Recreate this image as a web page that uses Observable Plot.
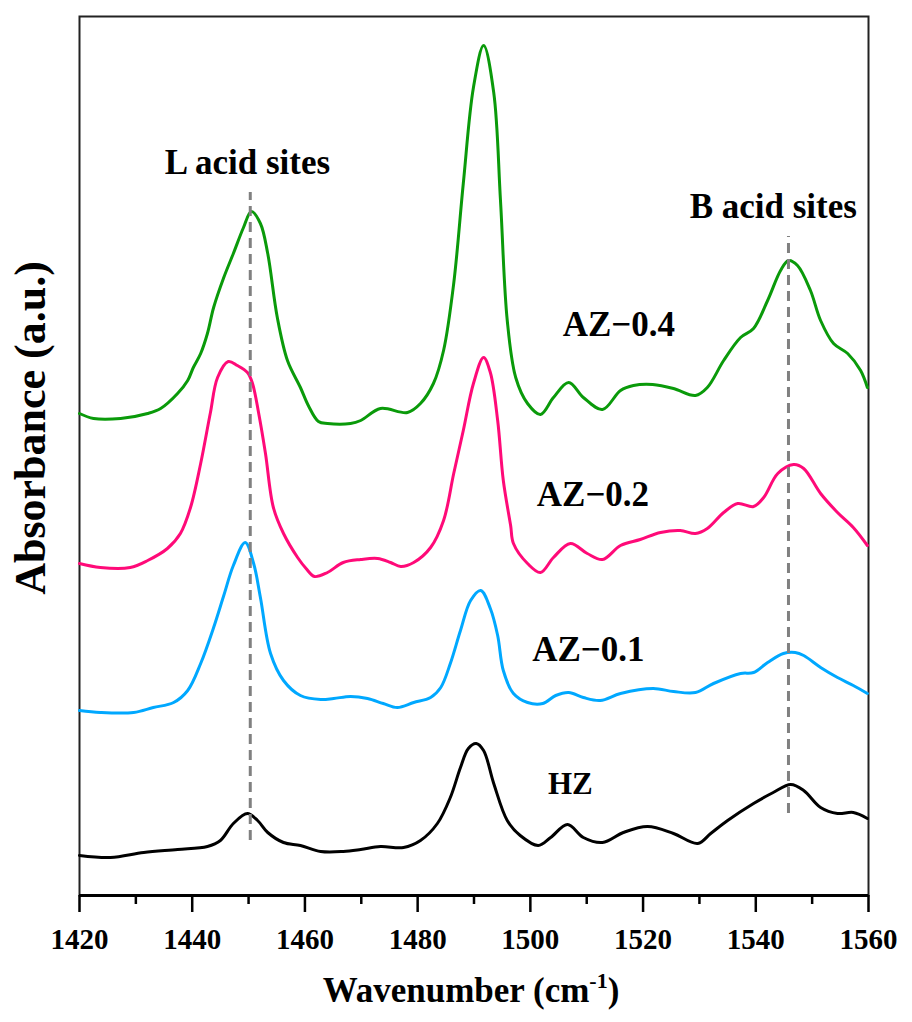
<!DOCTYPE html>
<html>
<head>
<meta charset="utf-8">
<script src="https://cdn.jsdelivr.net/npm/d3@7"></script>
<script src="https://cdn.jsdelivr.net/npm/@observablehq/plot@0.6"></script>
<style>
  html, body { margin: 0; padding: 0; background: #fff; }
  #chart { width: 912px; height: 1022px; }
</style>
</head>
<body>
<div id="chart"></div>
<script>
// ---- data (absorbance in arbitrary units) ----
const seriesNames = ["HZ", "AZ−0.1", "AZ−0.2", "AZ−0.4"];
const seriesColors = ["#000000", "#00a8ff", "#ff0a78", "#0a9a0a"];

const hzWave = [1420.0,1425.5,1431.4,1437.4,1442.7,1445.0,1447.3,1449.8,1451.6,1453.4,1456.2,1459.2,1462.8,1466.8,1469.9,1473.4,1477.5,1480.5,1483.5,1485.8,1487.6,1489.0,1490.4,1491.7,1493.5,1495.9,1498.2,1501.4,1503.6,1506.6,1509.4,1512.8,1516.5,1520.8,1525.4,1529.7,1532.0,1535.0,1539.6,1543.1,1546.2,1548.5,1551.5,1554.5,1557.3,1559.8];
const hzAbs  = [0.40,0.38,0.43,0.46,0.49,0.55,0.72,0.82,0.75,0.63,0.53,0.50,0.44,0.44,0.46,0.49,0.48,0.55,0.72,0.98,1.28,1.47,1.52,1.45,1.12,0.75,0.60,0.50,0.58,0.71,0.58,0.53,0.63,0.69,0.62,0.52,0.62,0.75,0.92,1.03,1.11,1.05,0.88,0.82,0.83,0.77];

const az01Wave = [1420.0,1423.7,1429.6,1433.1,1436.7,1439.2,1441.5,1443.8,1445.6,1447.3,1449.4,1450.9,1452.1,1453.9,1456.2,1459.2,1462.8,1465.1,1468.1,1471.1,1473.9,1476.4,1479.3,1482.3,1484.1,1485.8,1487.6,1489.4,1491.2,1492.9,1494.2,1495.2,1497.0,1499.5,1502.2,1504.5,1506.8,1509.4,1512.4,1516.0,1521.8,1525.4,1529.3,1532.5,1537.3,1539.6,1542.1,1544.9,1547.0,1548.5,1551.5,1554.5,1557.3,1559.8];
const az01Abs  = [1.85,1.83,1.83,1.88,1.93,2.05,2.32,2.68,3.00,3.30,3.53,3.32,2.98,2.42,2.15,2.00,1.96,1.97,1.99,1.97,1.92,1.88,1.93,1.98,2.08,2.32,2.65,2.95,3.05,2.87,2.60,2.25,2.02,1.93,1.92,2.00,2.03,1.98,1.95,2.02,2.07,2.04,2.03,2.12,2.22,2.23,2.33,2.42,2.43,2.40,2.28,2.18,2.10,2.02];

const az02Wave = [1420.0,1423.7,1429.0,1432.1,1435.6,1437.9,1439.7,1441.5,1443.2,1444.5,1446.4,1448.0,1449.8,1450.7,1451.8,1453.0,1454.4,1456.2,1458.7,1460.2,1461.7,1464.0,1466.8,1469.9,1472.9,1475.2,1477.0,1479.3,1482.3,1484.6,1486.4,1488.1,1489.9,1491.7,1492.9,1494.2,1495.2,1496.5,1497.0,1499.5,1501.8,1504.1,1507.1,1510.1,1512.8,1516.0,1519.5,1523.1,1526.6,1529.3,1531.4,1534.3,1536.8,1539.6,1541.4,1543.9,1546.7,1548.5,1551.5,1554.5,1557.3,1559.8];
const az02Abs  = [3.32,3.28,3.28,3.35,3.47,3.62,3.88,4.32,4.82,5.18,5.34,5.30,5.23,5.12,4.82,4.42,3.88,3.62,3.38,3.27,3.19,3.23,3.33,3.36,3.37,3.33,3.29,3.33,3.48,3.75,4.22,4.65,5.12,5.38,5.23,4.75,4.15,3.70,3.52,3.32,3.23,3.38,3.52,3.42,3.36,3.50,3.56,3.63,3.65,3.62,3.67,3.83,3.92,3.89,3.98,4.22,4.31,4.27,4.02,3.83,3.68,3.50];

const az04Wave = [1420.0,1422.5,1427.3,1432.1,1434.4,1437.4,1439.2,1440.2,1441.5,1442.7,1443.8,1445.6,1447.3,1449.1,1450.5,1452.1,1453.4,1455.1,1456.9,1459.2,1460.6,1462.4,1464.0,1468.1,1469.9,1473.4,1478.2,1480.5,1482.8,1484.6,1486.4,1488.1,1489.9,1491.7,1493.5,1494.7,1495.9,1497.4,1499.5,1501.8,1504.1,1506.8,1509.4,1512.8,1516.0,1518.3,1521.7,1525.4,1529.3,1531.4,1534.3,1537.3,1539.6,1542.1,1544.4,1545.8,1547.4,1549.7,1551.5,1553.8,1556.3,1558.6,1559.8];
const az04Abs  = [4.82,4.77,4.77,4.82,4.87,5.02,5.15,5.28,5.42,5.62,5.88,6.18,6.42,6.68,6.84,6.72,6.42,5.78,5.35,5.08,4.90,4.74,4.72,4.72,4.75,4.87,4.83,4.92,5.12,5.45,6.12,7.12,8.08,8.50,8.03,6.95,5.75,5.18,4.92,4.81,4.98,5.13,4.98,4.86,5.05,5.10,5.11,5.07,5.00,5.08,5.35,5.58,5.67,5.95,6.25,6.35,6.30,6.05,5.75,5.52,5.42,5.25,5.08];

// annotation content
const siteLabels = ["L acid sites", "B acid sites"];
const siteWave   = [1450.3, 1545.8];
const siteLineLow  = [0.55, 0.82];
const siteLineHigh = [7.03, 6.59];
const siteTextWave = [1449.8, 1543.1];
const siteTextAbs  = [7.33, 6.89];

const curveLabelWave = [1507.1, 1510.3, 1511.1, 1515.7];
const curveLabelAbs  = [1.11, 2.46, 4.01, 5.71];

const majorTicks = [1420, 1440, 1460, 1480, 1500, 1520, 1540, 1560];
const minorTicks = [1430, 1450, 1470, 1490, 1510, 1530, 1550];

// ---- build tables ----
const waves = [hzWave, az01Wave, az02Wave, az04Wave];
const absb  = [hzAbs, az01Abs, az02Abs, az04Abs];
const rows = [];
seriesNames.forEach((name, i) => {
  waves[i].forEach((w, j) => rows.push({series: name, wave: w, abs: absb[i][j]}));
});
const sites = siteLabels.map((t, i) => ({label: t, x: siteWave[i], y1: siteLineLow[i], y2: siteLineHigh[i], tx: siteTextWave[i], ty: siteTextAbs[i]}));
const curveLabels = seriesNames.map((n, i) => ({label: n, x: curveLabelWave[i], y: curveLabelAbs[i]}));

const serif = "'Liberation Serif', 'Times New Roman', Times, serif";

const chart = Plot.plot({
  width: 912,
  height: 1022,
  marginLeft: 79,
  marginRight: 44,
  marginTop: 16,
  marginBottom: 127,
  style: {fontFamily: serif, fontWeight: "bold", background: "#fff", color: "#000", overflow: "visible"},
  x: {domain: [1420, 1560]},
  y: {domain: [0, 8.79], axis: null},
  color: {domain: seriesNames, range: seriesColors},
  marks: [
    Plot.frame({stroke: "#222", strokeWidth: 2}),
    Plot.line(rows, {x: "wave", y: "abs", z: "series", stroke: "series", strokeWidth: 3, curve: "catmull-rom"}),
    Plot.ruleX(sites, {x: "x", y1: "y1", y2: "y2", stroke: "#808080", strokeWidth: 3, strokeDasharray: "10,6"}),
    Plot.text(sites, {x: "tx", y: "ty", text: "label", fontSize: 35, fontWeight: "bold", fontFamily: serif, fill: "#000", lineAnchor: "middle"}),
    Plot.text(curveLabels, {x: "x", y: "y", text: "label", fontSize: d => d.label === "HZ" ? 31 : 35, fontWeight: "bold", fontFamily: serif, fill: "#000", lineAnchor: "middle"}),
    Plot.ruleY([0], {stroke: "#000", strokeWidth: 3}),
    Plot.axisX(minorTicks, {tickSize: 9, tickFormat: () => "", strokeWidth: 2.5, label: null}),
    Plot.axisX(majorTicks, {tickSize: 17, tickFormat: () => "", strokeWidth: 2.5, label: null}),
    // tick labels drawn as a text mark so the serif typography applies
    Plot.text(majorTicks, {x: d => d, text: d => String(d), frameAnchor: "bottom", lineAnchor: "top", dy: 33, fontSize: 29, fontWeight: "bold", fontFamily: serif, fill: "#000"})
  ]
});
document.getElementById("chart").appendChild(chart);

const svg = d3.select(chart);

// axis titles (with superscript)
const xt = svg.append("text")
  .attr("x", 471).attr("y", 1002)
  .attr("text-anchor", "middle")
  .attr("font-family", serif).attr("font-weight", "bold").attr("font-size", 35)
  .attr("fill", "#000");
xt.append("tspan").text("Wavenumber (cm");
xt.append("tspan").attr("font-size", 22).attr("dy", -14).text("-1");
xt.append("tspan").attr("dy", 14).text(")");

svg.append("text")
  .attr("transform", "translate(45,428) rotate(-90)")
  .attr("text-anchor", "middle")
  .attr("font-family", serif).attr("font-weight", "bold").attr("font-size", 44)
  .attr("fill", "#000")
  .text("Absorbance (a.u.)");
</script>
</body>
</html>
